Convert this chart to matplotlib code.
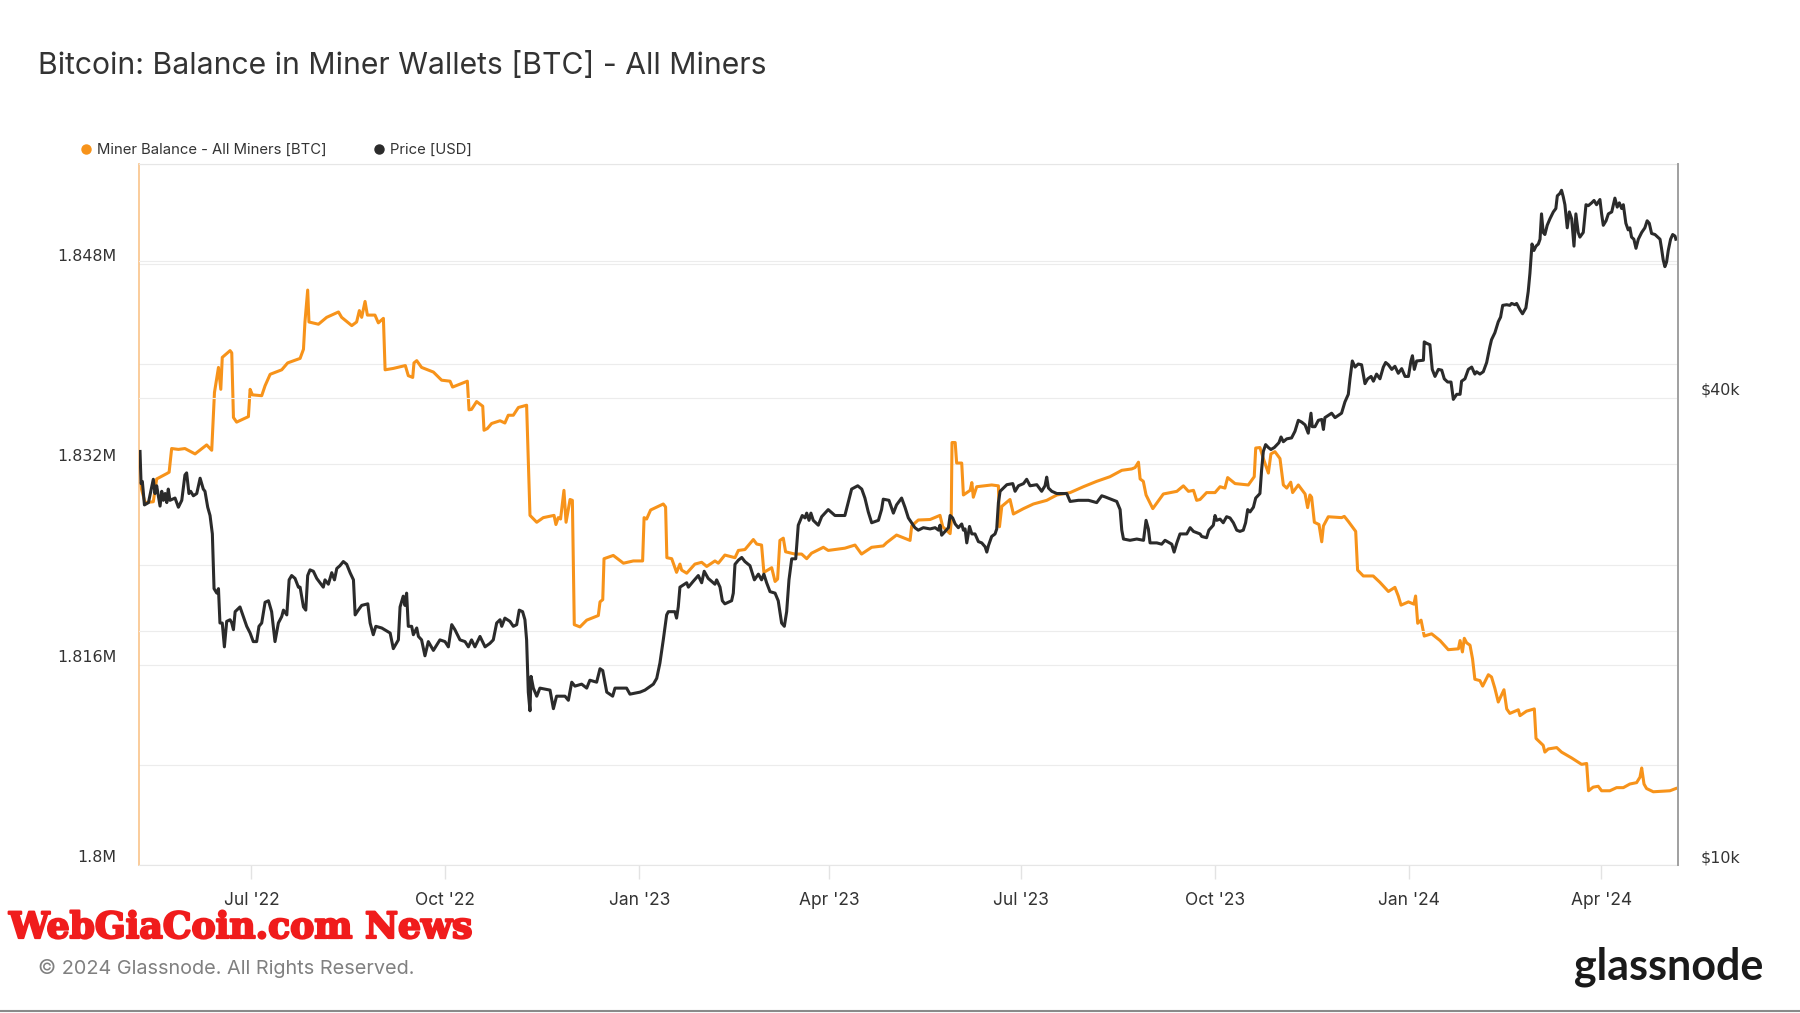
import matplotlib
matplotlib.use('Agg')
import matplotlib.pyplot as plt
import matplotlib.dates as mdates
import matplotlib.ticker as mticker
import matplotlib.patheffects as pe
from matplotlib.transforms import ScaledTranslation
from matplotlib.lines import Line2D
import pandas as pd

plt.rcParams['font.family'] = ['Inter', 'DejaVu Sans']

orange = '#f7931a'
dark = '#2b2b2b'
grid_c = '#ececec'

# days are counted from this date
base_date = '2022-07-01'
view_days = [-53.3, 676.4]

# Miner balance, millions of BTC
bal_day = [-52.8, -50.4, -46.5, -44.9, -40.1, -39.0, -37.8, -34.6, -31.5, -26.7,
           -21.2, -18.8, -17.5, -15.6, -14.5, -13.8, -10.1, -9.3, -8.5, -7.0,
           -1.4, -0.6, 0.5, 4.9, 6.5, 8.9, 14.4, 17.2, 23.1, 24.7,
           25.4, 26.7, 27.3, 31.8, 35.7, 41.3, 42.8, 47.6, 49.9, 51.2,
           52.3, 53.9, 55.0, 58.6, 60.2, 62.6, 63.4, 67.3, 70.5, 73.0,
           74.4, 76.5, 77.1, 78.4, 80.7, 86.3, 90.2, 94.2, 95.4, 102.4,
           103.2, 104.4, 106.8, 109.7, 110.3, 111.9, 113.9, 117.9, 120.2, 121.8,
           124.2, 126.6, 130.5, 132.1, 135.3, 138.4, 143.5, 144.4, 145.5, 146.6,
           148.2, 149.2, 151.1, 152.2, 153.1, 155.8, 159.0, 164.5, 165.3, 166.6,
           167.2, 171.6, 176.4, 181.1, 185.5, 186.2, 187.4, 189.3, 195.3, 196.4,
           197.0, 199.3, 201.6, 203.2, 204.0, 206.4, 210.3, 213.5, 215.9, 219.8,
           221.4, 224.5, 229.3, 230.9, 234.0, 238.0, 239.6, 241.9, 243.0, 246.7,
           248.3, 249.5, 250.6, 252.2, 253.3, 257.7, 260.9, 263.3, 265.6, 271.2,
           273.5, 281.4, 286.2, 289.3, 294.1, 299.6, 301.2, 305.9, 312.3, 313.1,
           316.2, 321.8, 326.5, 327.8, 331.3, 331.8, 332.2, 333.7, 334.4, 336.8,
           337.6, 340.8, 341.6, 342.3, 343.9, 351.0, 354.2, 354.7, 355.8, 359.7,
           361.3, 366.1, 370.8, 377.1, 381.9, 388.2, 394.5, 400.8, 407.1, 412.7,
           417.4, 419.0, 420.6, 421.4, 422.9, 424.2, 427.4, 432.4, 438.8, 441.9,
           444.3, 446.7, 448.2, 449.8, 452.9, 456.9, 459.3, 461.6, 462.9, 466.4,
           472.7, 475.5, 476.2, 478.2, 479.8, 482.2, 483.4, 485.3, 487.7, 489.3,
           490.9, 492.8, 493.7, 496.4, 499.6, 500.8, 501.9, 502.7, 504.0, 506.2,
           507.5, 508.3, 510.6, 516.9, 518.2, 520.1, 523.6, 524.5, 527.2, 531.9,
           535.1, 539.1, 542.2, 543.8, 545.1, 548.6, 551.2, 552.0, 553.0, 554.6,
           556.1, 559.6, 563.6, 567.5, 572.3, 573.1, 574.2, 575.1, 576.2, 577.8,
           579.0, 580.1, 582.5, 583.8, 586.5, 588.0, 589.6, 591.2, 593.9, 595.2,
           596.7, 600.7, 601.5, 604.6, 608.3, 609.1, 612.5, 613.3, 614.9, 618.9,
           621.2, 626.0, 630.7, 633.1, 634.0, 636.2, 638.6, 640.2, 644.1, 647.3,
           650.5, 653.6, 656.8, 658.4, 659.2, 660.3, 661.5, 664.7, 672.6, 675.4]
bal_m = [1.83047, 1.82895, 1.82902, 1.83084, 1.83127, 1.83138, 1.83327, 1.83320, 1.83327, 1.83284,
         1.83356, 1.83313, 1.83775, 1.83975, 1.83800, 1.84055, 1.84109, 1.84091, 1.83575, 1.83538,
         1.83582, 1.83800, 1.83756, 1.83749, 1.83829, 1.83920, 1.83956, 1.84011, 1.84047, 1.84120,
         1.84338, 1.84593, 1.84338, 1.84320, 1.84375, 1.84418, 1.84375, 1.84309, 1.84338, 1.84429,
         1.84375, 1.84502, 1.84393, 1.84393, 1.84331, 1.84367, 1.83956, 1.83967, 1.83980, 1.83990,
         1.83909, 1.83895, 1.84011, 1.84029, 1.83975, 1.83938, 1.83873, 1.83865, 1.83818, 1.83865,
         1.83636, 1.83640, 1.83702, 1.83665, 1.83473, 1.83487, 1.83527, 1.83549, 1.83531, 1.83593,
         1.83593, 1.83655, 1.83673, 1.82793, 1.82738, 1.82775, 1.82793, 1.82720, 1.82775, 1.82764,
         1.82993, 1.82738, 1.82920, 1.82913, 1.81920, 1.81902, 1.81956, 1.81993, 1.82102, 1.82120,
         1.82447, 1.82473, 1.82411, 1.82429, 1.82429, 1.82775, 1.82764, 1.82836, 1.82884, 1.82860,
         1.82455, 1.82447, 1.82338, 1.82404, 1.82356, 1.82331, 1.82404, 1.82418, 1.82385, 1.82429,
         1.82411, 1.82476, 1.82455, 1.82513, 1.82520, 1.82600, 1.82564, 1.82556, 1.82338, 1.82375,
         1.82265, 1.82284, 1.82593, 1.82611, 1.82502, 1.82484, 1.82484, 1.82447, 1.82491, 1.82538,
         1.82513, 1.82531, 1.82556, 1.82484, 1.82538, 1.82549, 1.82575, 1.82636, 1.82593, 1.82709,
         1.82756, 1.82760, 1.82793, 1.82702, 1.82647, 1.82738, 1.83375, 1.83375, 1.83211, 1.83211,
         1.82956, 1.82993, 1.83055, 1.82938, 1.83022, 1.83036, 1.83029, 1.82702, 1.82865, 1.82920,
         1.82804, 1.82847, 1.82884, 1.82913, 1.82956, 1.82975, 1.83022, 1.83065, 1.83102, 1.83153,
         1.83164, 1.83175, 1.83218, 1.83084, 1.83065, 1.82956, 1.82847, 1.82964, 1.82985, 1.83029,
         1.82985, 1.82993, 1.82913, 1.82920, 1.82975, 1.82975, 1.83022, 1.83011, 1.83095, 1.83047,
         1.83036, 1.83102, 1.83331, 1.83335, 1.83247, 1.83131, 1.83284, 1.83302, 1.83247, 1.83036,
         1.83011, 1.83058, 1.82975, 1.83036, 1.82964, 1.82855, 1.82956, 1.82938, 1.82738, 1.82720,
         1.82582, 1.82709, 1.82782, 1.82775, 1.82785, 1.82745, 1.82665, 1.82356, 1.82309, 1.82309,
         1.82258, 1.82185, 1.82218, 1.82149, 1.82076, 1.82102, 1.82084, 1.82149, 1.81931, 1.81956,
         1.81829, 1.81847, 1.81793, 1.81720, 1.81727, 1.81793, 1.81702, 1.81811, 1.81775, 1.81756,
         1.81647, 1.81484, 1.81473, 1.81429, 1.81520, 1.81502, 1.81411, 1.81302, 1.81400, 1.81247,
         1.81211, 1.81240, 1.81193, 1.81229, 1.81247, 1.81011, 1.80956, 1.80902, 1.80927, 1.80938,
         1.80902, 1.80855, 1.80804, 1.80811, 1.80593, 1.80622, 1.80629, 1.80593, 1.80593, 1.80618,
         1.80618, 1.80647, 1.80658, 1.80702, 1.80775, 1.80647, 1.80611, 1.80585, 1.80593, 1.80611]

# BTC price, thousands of USD
px_day = [-52.8, -52.3, -51.7, -50.7, -48.8, -46.5, -45.7, -44.9, -43.3, -42.5,
          -41.7, -40.9, -40.1, -39.4, -38.6, -36.2, -34.6, -33.0, -31.5, -30.7,
          -29.6, -28.8, -27.5, -25.9, -24.3, -22.8, -22.0, -20.7, -19.6, -18.5,
          -17.7, -16.4, -15.6, -14.9, -13.8, -12.8, -11.7, -10.1, -9.3, -8.5,
          -7.7, -5.4, -3.8, -2.2, -0.6, 0.9, 2.5, 3.6, 4.9, 6.5,
          8.1, 9.6, 11.2, 12.8, 14.4, 15.2, 16.8, 17.9, 19.1, 20.7,
          22.3, 23.1, 24.7, 25.8, 26.7, 27.8, 29.4, 31.0, 34.1, 34.9,
          36.5, 37.3, 38.1, 39.4, 40.5, 42.0, 43.6, 45.2, 46.8, 48.4,
          49.2, 50.7, 52.3, 55.2, 56.3, 57.8, 59.0, 61.8, 65.8, 67.3,
          69.7, 70.5, 72.0, 72.8, 73.6, 74.4, 76.0, 76.8, 78.4, 79.2,
          80.7, 82.3, 83.9, 86.3, 89.4, 91.8, 93.4, 95.0, 96.5, 98.9,
          101.3, 102.9, 104.4, 106.0, 108.4, 110.8, 113.1, 114.7, 116.3, 117.9,
          118.7, 120.2, 122.6, 124.2, 125.8, 127.0, 128.6, 129.7, 130.5, 131.3,
          132.1, 132.6, 133.7, 135.3, 136.8, 141.6, 143.2, 144.7, 148.7, 150.3,
          151.9, 153.4, 156.6, 159.0, 160.5, 163.7, 165.3, 166.6, 168.5, 171.3,
          172.4, 174.8, 177.9, 179.5, 184.3, 186.6, 190.6, 192.2, 193.7, 195.3,
          196.9, 197.7, 200.8, 201.6, 202.4, 203.2, 206.4, 207.2, 209.5, 211.9,
          213.5, 214.7, 216.6, 219.8, 220.6, 222.2, 223.3, 224.5, 227.7, 228.5,
          229.3, 230.9, 232.5, 234.0, 236.4, 238.5, 240.4, 241.9, 243.0, 244.3,
          245.9, 248.3, 249.8, 251.4, 252.7, 253.8, 254.9, 256.2, 258.1, 259.3,
          261.2, 262.5, 263.3, 264.4, 265.3, 266.4, 268.8, 270.4, 273.5, 276.7,
          281.4, 282.7, 284.6, 287.5, 289.4, 290.9, 292.5, 294.1, 297.3, 298.8,
          299.6, 302.3, 304.4, 305.9, 308.3, 309.9, 311.5, 314.6, 316.2, 318.6,
          321.8, 324.2, 325.8, 326.5, 327.3, 328.9, 330.5, 331.3, 332.5, 333.7,
          335.2, 336.8, 337.6, 338.4, 339.2, 340.5, 341.6, 343.1, 344.7, 346.3,
          347.9, 348.7, 349.5, 351.0, 352.6, 353.4, 354.2, 355.0, 358.2, 361.0,
          362.1, 363.7, 366.1, 367.6, 369.2, 372.4, 374.7, 376.3, 377.1, 377.9,
          379.5, 381.9, 386.6, 388.2, 392.1, 396.9, 400.8, 403.2, 404.8, 410.3,
          411.9, 412.7, 413.5, 416.6, 419.8, 423.0, 424.2, 425.3, 426.1, 429.3,
          431.6, 433.2, 436.4, 437.5, 438.8, 440.3, 443.5, 445.1, 446.7, 449.8,
          450.6, 452.9, 454.0, 456.1, 456.9, 457.7, 459.3, 460.8, 462.4, 464.0,
          465.6, 467.2, 468.7, 470.3, 471.4, 472.4, 473.5, 475.1, 476.2, 478.2,
          479.0, 479.8, 480.9, 482.2, 483.4, 485.0, 487.2, 488.2, 489.3, 490.9,
          493.2, 494.8, 496.4, 498.0, 499.6, 501.1, 502.4, 503.0, 504.3, 505.9,
          507.5, 508.3, 509.0, 512.2, 513.8, 516.9, 518.5, 520.1, 520.9, 522.0,
          523.3, 524.8, 526.4, 528.0, 529.3, 530.9, 532.0, 533.5, 535.1, 536.7,
          537.8, 539.1, 540.7, 542.2, 543.8, 545.4, 547.0, 548.6, 549.8, 550.5,
          551.4, 552.5, 555.7, 556.1, 557.2, 558.8, 559.9, 561.2, 562.8, 564.4,
          565.6, 567.2, 568.8, 569.9, 571.5, 573.1, 573.8, 575.4, 577.0, 578.6,
          580.1, 580.9, 582.5, 584.1, 585.7, 587.2, 588.0, 589.6, 591.2, 592.3,
          593.3, 595.2, 596.7, 597.5, 599.1, 599.9, 601.5, 602.7, 604.3, 605.4,
          606.2, 607.2, 608.1, 609.1, 610.2, 611.0, 611.7, 612.5, 613.3, 614.4,
          615.7, 617.3, 618.5, 619.2, 620.4, 621.2, 622.0, 622.8, 623.9, 624.9,
          626.0, 627.1, 628.0, 629.1, 629.9, 631.5, 632.8, 633.9, 635.5, 636.6,
          637.8, 639.4, 640.2, 641.0, 642.3, 643.4, 645.0, 646.5, 647.6, 648.6,
          649.7, 650.5, 651.7, 652.8, 653.6, 654.4, 655.5, 656.5, 657.6, 659.2,
          660.7, 661.8, 662.8, 663.9, 665.5, 667.1, 667.9, 668.6, 669.4, 670.2,
          671.0, 671.8, 672.9, 673.9, 675.0, 675.4]
px_k = [34.1, 31.0, 31.2, 29.1, 29.3, 31.4, 30.1, 30.8, 29.0, 30.3,
        29.5, 30.1, 29.3, 30.5, 29.5, 29.7, 28.9, 29.5, 31.8, 32.0,
        30.1, 30.3, 29.9, 30.1, 31.5, 30.5, 30.3, 28.9, 28.2, 26.7,
        22.7, 22.4, 22.7, 20.5, 20.5, 19.1, 20.6, 20.7, 20.5, 20.1,
        21.2, 21.5, 20.9, 20.3, 19.9, 19.4, 19.4, 20.3, 20.5, 21.8,
        21.9, 21.2, 19.4, 20.5, 20.9, 21.3, 21.0, 23.3, 23.6, 23.4,
        22.8, 22.8, 21.5, 21.3, 23.6, 24.0, 23.9, 23.4, 22.8, 23.3,
        23.0, 23.4, 23.8, 23.3, 24.1, 24.3, 24.6, 24.4, 23.8, 23.3,
        21.0, 21.3, 21.6, 21.7, 20.5, 19.8, 20.3, 20.2, 19.9, 19.0,
        19.5, 21.5, 22.2, 21.6, 22.4, 20.3, 20.3, 19.8, 20.2, 19.7,
        19.5, 18.6, 19.4, 18.9, 19.5, 19.4, 19.1, 20.4, 20.1, 19.5,
        19.4, 19.1, 19.5, 19.1, 19.7, 19.1, 19.3, 19.5, 20.5, 20.7,
        20.3, 20.8, 20.6, 20.3, 20.4, 21.3, 21.2, 20.7, 19.5, 16.7,
        15.8, 17.5, 16.9, 16.5, 16.9, 16.8, 15.9, 16.5, 16.5, 16.3,
        17.2, 17.0, 17.1, 16.9, 17.3, 17.2, 17.9, 17.8, 16.7, 16.5,
        16.9, 16.9, 16.9, 16.6, 16.7, 16.8, 17.1, 17.4, 18.2, 19.5,
        21.0, 21.2, 21.2, 20.8, 21.5, 22.8, 23.1, 22.8, 23.2, 23.6,
        23.1, 23.9, 23.4, 23.0, 23.3, 22.8, 21.9, 21.7, 21.9, 22.4,
        24.4, 24.7, 24.9, 24.6, 24.3, 23.3, 23.7, 23.3, 23.7, 23.1,
        22.5, 22.4, 21.9, 20.5, 20.3, 21.2, 23.3, 24.8, 24.8, 27.4,
        28.2, 28.0, 28.4, 27.8, 28.4, 27.8, 27.4, 28.1, 28.7, 28.2,
        28.2, 29.1, 30.5, 30.8, 30.5, 29.7, 28.5, 27.6, 27.8, 28.7,
        29.6, 29.5, 28.4, 29.1, 29.7, 28.9, 28.0, 27.2, 27.0, 27.2,
        27.1, 27.2, 27.0, 27.4, 26.6, 26.9, 27.2, 28.2, 28.0, 27.5,
        27.2, 27.5, 27.0, 27.1, 26.0, 27.3, 26.7, 26.7, 26.1, 26.0,
        25.7, 25.3, 25.8, 26.5, 26.7, 27.1, 29.3, 30.3, 30.9, 31.0,
        30.3, 30.8, 31.0, 31.4, 30.8, 30.9, 30.3, 30.8, 31.6, 30.6,
        30.3, 30.1, 30.1, 29.4, 29.5, 29.5, 29.3, 29.9, 29.8, 29.4,
        28.7, 27.0, 26.3, 26.2, 26.3, 26.2, 27.8, 27.1, 26.0, 26.0,
        25.9, 26.2, 25.9, 25.3, 26.0, 26.7, 26.7, 27.2, 26.9, 26.7,
        26.5, 26.4, 27.0, 27.4, 28.2, 27.8, 27.9, 27.6, 28.1, 28.0,
        27.6, 27.0, 26.9, 27.0, 27.6, 28.7, 28.5, 28.9, 29.7, 30.1,
        32.3, 34.1, 34.8, 34.5, 34.3, 34.5, 35.0, 35.6, 35.1, 35.4,
        35.5, 36.2, 37.4, 37.2, 36.9, 36.0, 38.2, 36.7, 36.7, 37.4,
        37.5, 36.4, 37.7, 38.2, 37.7, 38.2, 39.5, 40.4, 42.3, 44.6,
        43.8, 44.2, 44.1, 41.7, 42.3, 42.6, 42.0, 42.9, 42.3, 43.8,
        44.4, 44.1, 43.5, 43.9, 43.0, 43.6, 42.6, 42.6, 44.6, 45.3,
        43.5, 44.6, 44.7, 47.2, 47.0, 46.8, 43.5, 42.6, 43.5, 43.4,
        42.3, 41.9, 41.9, 39.8, 40.4, 40.4, 42.0, 42.3, 43.5, 43.8,
        42.9, 43.2, 42.9, 43.2, 44.4, 46.5, 47.5, 48.5, 50.1, 50.8,
        52.6, 52.7, 52.6, 52.9, 52.7, 52.9, 51.9, 51.3, 52.2, 54.8,
        57.8, 63.1, 61.9, 62.7, 63.1, 64.0, 69.0, 65.3, 64.9, 66.7,
        68.0, 69.4, 70.1, 72.8, 73.3, 74.0, 72.6, 70.9, 66.2, 69.4,
        68.0, 62.7, 69.0, 65.3, 64.4, 65.3, 70.9, 70.7, 71.3, 71.8,
        70.9, 72.0, 69.0, 66.7, 67.6, 69.0, 69.4, 72.3, 70.4, 71.3,
        70.1, 70.9, 67.1, 65.8, 66.2, 64.4, 64.0, 62.3, 64.0, 65.3,
        66.2, 67.6, 67.1, 65.1, 64.9, 64.3, 64.0, 62.3, 60.2, 59.0,
        59.8, 61.9, 64.0, 64.9, 64.6, 64.0]

bal_ticks = [1.8, 1.816, 1.832, 1.848]
bal_tick_labels = ['1.8M', '1.816M', '1.832M', '1.848M']
bal_minor = [1.808, 1.824, 1.840, 1.856]
px_ticks = [10000, 40000]
px_tick_labels = ['$10k', '$40k']
px_minor = [20000, 60000]

t0 = pd.Timestamp(base_date)
bal_dates = t0 + pd.to_timedelta(bal_day, unit='D')
px_dates = t0 + pd.to_timedelta(px_day, unit='D')
x_lim = t0 + pd.to_timedelta(view_days, unit='D')

fig = plt.figure(figsize=(18, 10.13), dpi=100)
ax = fig.add_axes([0.0772, 0.1461, 0.855, 0.692])
ax2 = ax.twinx()

ax.plot(bal_dates, bal_m, color=orange, lw=2.2, solid_joinstyle='round')
ax2.plot(px_dates, [v * 1000 for v in px_k], color=dark, lw=2.2,
         solid_joinstyle='round')

ax.set_xlim(x_lim[0], x_lim[1])
ax.set_ylim(1.8, 1.856)
ax2.set_yscale('log')
ax2.set_ylim(10000, 80000)

# gridlines
ax.yaxis.set_major_locator(mticker.FixedLocator(bal_ticks))
ax.yaxis.set_minor_locator(mticker.FixedLocator(bal_minor))
ax2.yaxis.set_major_locator(mticker.FixedLocator(px_ticks))
ax2.yaxis.set_minor_locator(mticker.FixedLocator(px_minor))
ax2.yaxis.set_minor_formatter(mticker.NullFormatter())
for a in (ax, ax2):
    a.grid(True, which='both', axis='y', color=grid_c, lw=0.8)
    a.tick_params(axis='y', which='both', length=0, labelleft=False,
                  labelright=False)

# y labels sit a little above their gridlines
lift = ScaledTranslation(0, 7.5 / 100, fig.dpi_scale_trans)
for v, s in zip(bal_ticks, bal_tick_labels):
    ax.text(-0.0149, v, s, transform=ax.get_yaxis_transform() + lift,
            ha='right', va='center', fontsize=11.4, color='#333333',
            family='DejaVu Sans')
for v, s in zip(px_ticks, px_tick_labels):
    ax2.text(1.0149, v, s, transform=ax2.get_yaxis_transform() + lift,
             ha='left', va='center', fontsize=11.4, color='#333333',
             family='DejaVu Sans')

ax.xaxis.set_major_locator(mdates.MonthLocator(bymonth=(1, 4, 7, 10)))
ax.xaxis.set_major_formatter(mdates.DateFormatter("%b '%y"))
ax.tick_params(axis='x', length=10, width=1, color='#e3e3e3', pad=9.5,
               labelsize=12.5, labelcolor='#333333')

ax.spines['left'].set_color('#f9c48a')
ax.spines['left'].set_linewidth(1.2)
ax.spines['top'].set_color('#e6e6e6')
ax.spines['bottom'].set_color('#e6e6e6')
ax.spines['right'].set_visible(False)
for s in ('left', 'top', 'bottom'):
    ax2.spines[s].set_visible(False)
ax2.spines['right'].set_color('#a0a0a0')
ax2.spines['right'].set_linewidth(1.4)

handles = [Line2D([], [], ls='none', marker='o', markersize=6.5,
                  markerfacecolor=c, markeredgecolor=c) for c in (orange, dark)]
fig.legend(handles, ['Miner Balance - All Miners [BTC]', 'Price [USD]'],
           loc='center left', bbox_to_anchor=(0.0451, 0.8518), ncol=2,
           frameon=False, fontsize=10.7, handlelength=0.6, handletextpad=0.45,
           columnspacing=3.25, borderpad=0, borderaxespad=0,
           labelcolor='#333333')

fig.text(0.0211, 0.9345, 'Bitcoin: Balance in Miner Wallets [BTC] - All Miners',
         fontsize=21.7, color='#333333', va='center', ha='left')
fig.text(0.005, 0.0839, 'WebGiaCoin.com News', family='DejaVu Serif',
         fontweight='bold', fontsize=26, color='#f01c1c',
         va='center', ha='left',
         path_effects=[pe.withStroke(linewidth=1.6, foreground='#f01c1c')])
fig.text(0.0211, 0.0444, '\u00a9 2024 Glassnode. All Rights Reserved.',
         fontsize=14.3, color='#808080', va='center', ha='left')
fig.text(0.9795, 0.0454, 'glassnode', family='Lato', fontweight='bold',
         fontsize=31, color='#1a1a1a', va='center', ha='right')
fig.add_artist(Line2D([0, 1], [0.0015, 0.0015], transform=fig.transFigure,
                      color='#8a8a8a', lw=1.5))

fig.savefig('out.png', dpi=100, facecolor='white')
